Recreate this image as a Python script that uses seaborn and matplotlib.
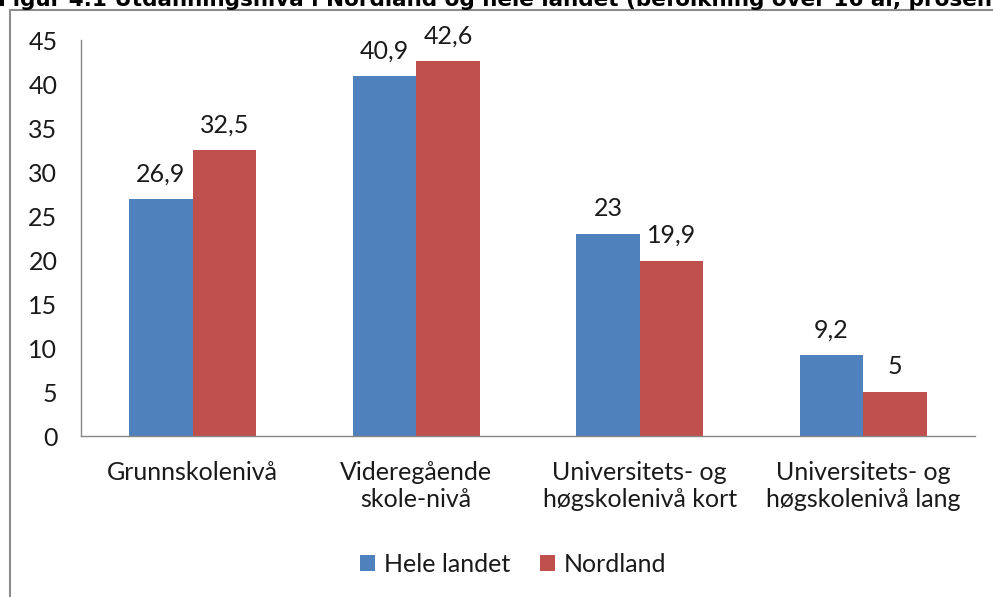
import matplotlib
matplotlib.use("Agg")
import matplotlib.pyplot as plt
import seaborn as sns
import pandas as pd
from matplotlib.patches import Patch
from matplotlib.lines import Line2D

categories = ["Grunnskolenivå", "Videregående\nskole-nivå",
              "Universitets- og\nhøgskolenivå kort", "Universitets- og\nhøgskolenivå lang"]
series_names = ["Hele landet", "Nordland"]
hele_landet = [26.9, 40.9, 23, 9.2]
nordland = [32.5, 42.6, 19.9, 5]
colors = ["#4F81BD", "#C0504D"]
title = "Figur 4.1 Utdanningsnivå i Nordland og hele landet (befolkning over 16 år, prosent)"

df = pd.DataFrame({
    "Kategori": categories * 2,
    "Serie": [series_names[0]] * 4 + [series_names[1]] * 4,
    "Verdi": hele_landet + nordland,
})

sns.set_theme(style="white")
plt.rcParams["font.family"] = ["Lato", "DejaVu Sans"]

W, H = 993, 597
fig = plt.figure(figsize=(W / 100, H / 100), dpi=100)
ax = fig.add_axes([81 / W, 1 - 436 / H, (975 - 81) / W, (436 - 40) / H])

sns.barplot(data=df, x="Kategori", y="Verdi", hue="Serie", order=categories,
            hue_order=series_names, palette=colors, width=0.57, gap=0,
            linewidth=0, saturation=1, ax=ax, legend=False)

ax.set_ylim(0, 45)
ax.set_yticks(range(0, 46, 5))
ax.set_xlabel("")
ax.set_ylabel("")
ax.tick_params(axis="both", length=0, labelsize=18, colors="#1a1a1a")
ax.tick_params(axis="y", pad=17)
ax.tick_params(axis="x", pad=18)
for s in ["top", "right"]:
    ax.spines[s].set_visible(False)
for s in ["left", "bottom"]:
    ax.spines[s].set_color("#868686")
    ax.spines[s].set_linewidth(1.0)
ax.grid(False)

def fmt(v):
    return ("%g" % v).replace(".", ",")

for cont in ax.containers:
    ax.bar_label(cont, labels=[fmt(b.get_height()) for b in cont], padding=10,
                 fontsize=18, color="#1a1a1a")

handles = [Patch(facecolor=c, edgecolor="none") for c in colors]
fig.legend(handles, series_names, loc="center", bbox_to_anchor=(513 / W, 1 - 564 / H),
           ncol=2, frameon=False, fontsize=18, handlelength=0.6, handleheight=0.6,
           handletextpad=0.35, columnspacing=1.2, labelcolor="#1a1a1a")

# outer chart frame (left and top edges visible)
fig.lines.append(Line2D([10 / W, 10 / W], [0, 1 - 10 / H], transform=fig.transFigure,
                        color="#8c8c8c", linewidth=1.5))
fig.lines.append(Line2D([10 / W, 1], [1 - 10 / H, 1 - 10 / H], transform=fig.transFigure,
                        color="#8c8c8c", linewidth=1.5))

fig.text(-2 / W, 1 - 6 / H, title, fontsize=15.5, fontweight="bold",
         family=["DejaVu Sans"], va="baseline", ha="left", color="#000000")

fig.savefig("out.png", dpi=100)
